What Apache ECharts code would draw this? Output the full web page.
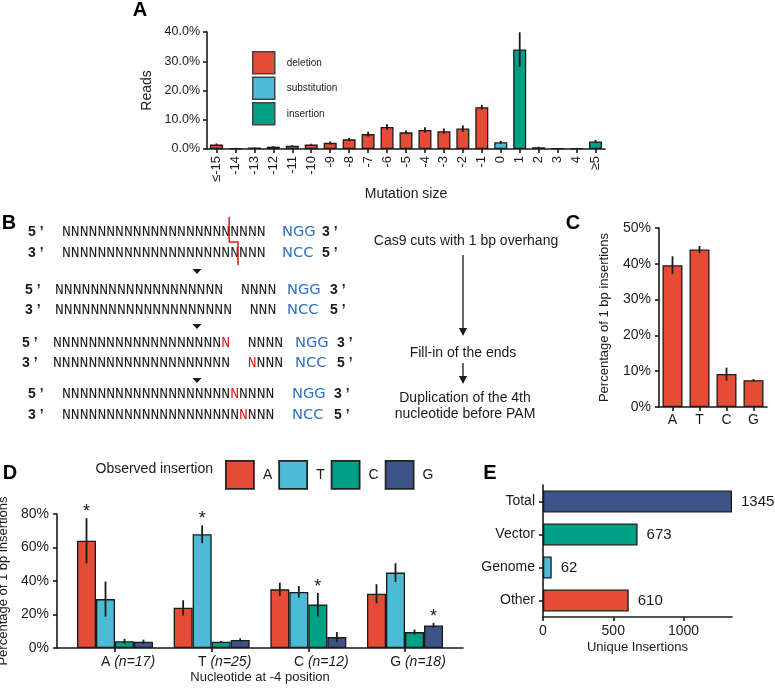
<!DOCTYPE html>
<html>
<head>
<meta charset="utf-8">
<script src="https://cdn.jsdelivr.net/npm/echarts@6/dist/echarts.min.js"></script>
<style>
  html, body { margin: 0; padding: 0; background: #fff; }
  #chart { width: 775px; height: 689px; }
</style>
</head>
<body>
<div id="chart"></div>
<script>
// ---- panel A: reads by mutation size ----
const mutSizes = ['≤-15', '-14', '-13', '-12', '-11', '-10', '-9', '-8', '-7', '-6', '-5', '-4', '-3', '-2', '-1', '0', '1', '2', '3', '4', '≥5'];
const mutTypes = ['deletion', 'deletion', 'deletion', 'deletion', 'deletion', 'deletion', 'deletion', 'deletion', 'deletion', 'deletion', 'deletion', 'deletion', 'deletion', 'deletion', 'deletion', 'substitution', 'insertion', 'insertion', 'insertion', 'insertion', 'insertion'];
const readsPct = [1.5, 0.3, 0.5, 0.8, 1.1, 1.5, 2.1, 3.3, 5.1, 7.5, 5.7, 6.5, 6.1, 7.0, 14.3, 2.3, 34.0, 0.6, 0.2, 0.2, 2.6];
const readsErr = [0.4, 0.1, 0.1, 0.2, 0.2, 0.3, 0.5, 0.5, 0.8, 1.0, 0.6, 0.9, 0.9, 1.1, 0.8, 0.5, 5.9, 0.2, 0.1, 0.1, 0.5];
const typeNames = ['deletion', 'substitution', 'insertion'];

// ---- panel C: inserted nucleotide ----
const nucleotides = ['A', 'T', 'C', 'G'];
const insertPct = [39.6, 44.0, 9.2, 7.5];
const insertErr = [2.5, 1.0, 1.8, 0.3];

// ---- panel D: observed insertion by nucleotide at -4 ----
const groupN = [17, 25, 12, 18];
const obsA = [64.0, 24.0, 35.0, 32.4];
const obsT = [29.2, 67.9, 33.5, 45.0];
const obsC = [4.0, 3.7, 25.9, 9.5];
const obsG = [3.7, 4.8, 6.5, 13.5];
const errA = [13.5, 4.5, 4.0, 5.7];
const errT = [10.5, 5.3, 3.5, 5.6];
const errC = [1.5, 0.5, 7.0, 1.5];
const errG = [1.3, 1.0, 3.0, 1.5];
const starA = [1, 0, 0, 0];
const starT = [0, 1, 0, 0];
const starC = [0, 0, 1, 0];
const starG = [0, 0, 0, 1];

// ---- panel E: unique insertions ----
const sources = ['Total', 'Vector', 'Genome', 'Other'];
const uniqueCounts = [1345, 673, 62, 610];

const RED = '#E64B35', BLUE = '#4DBBD5', GREEN = '#00A087', NAVY = '#3C5488';
const typeColors = { deletion: RED, substitution: BLUE, insertion: GREEN };
const sourceColors = [NAVY, GREEN, BLUE, RED];
const INK = '#1a1a1a';
const SANS = "'Liberation Sans', Arial, sans-serif";
const NARROW = "'Liberation Sans Narrow', 'Liberation Sans', Arial, sans-serif";
const MONO = "'Liberation Mono', 'DejaVu Sans Mono', monospace";
const SEQ_BLUE = '#2F72C4', SEQ_RED = '#D7191C';
const D_BAR_W = 19;

const chart = echarts.init(document.getElementById('chart'), null, { renderer: 'canvas' });

function lineStyle() {
  return { color: INK, width: 1.6 };
}
function baseAxis(gridIndex, fontSize, family) {
  return {
    gridIndex: gridIndex,
    axisLine: { show: true, onZero: false, lineStyle: lineStyle() },
    axisTick: { show: true, length: 4, lineStyle: lineStyle() },
    axisLabel: { color: INK, fontSize: fontSize, fontFamily: family },
    splitLine: { show: false },
    nameLocation: 'middle',
    nameTextStyle: { color: INK, fontSize: 13, fontFamily: family }
  };
}

function errorRender(offset) {
  return function (params, api) {
    const x = api.value(0);
    const lo = api.coord([x, api.value(1)]);
    const hi = api.coord([x, api.value(2)]);
    const children = [{
      type: 'line',
      shape: { x1: lo[0] + offset, y1: lo[1], x2: hi[0] + offset, y2: hi[1] },
      style: { stroke: INK, lineWidth: 1.8 }
    }];
    if (api.value(3)) {
      children.push({
        type: 'text',
        x: hi[0] + offset,
        y: hi[1] - 6,
        style: {
          text: '*', fill: INK, font: '18px ' + SANS,
          align: 'center', verticalAlign: 'middle',
          textAlign: 'center', textVerticalAlign: 'middle'
        }
      });
    }
    return { type: 'group', children: children };
  };
}

// panel A series: one per mutation type, overlapping at each category
const seriesA = typeNames.map(function (t) {
  return {
    name: t,
    type: 'bar',
    xAxisIndex: 0, yAxisIndex: 0,
    barWidth: 13,
    barGap: '-100%',
    itemStyle: { color: typeColors[t], borderColor: INK, borderWidth: 1.3 },
    data: readsPct.map(function (v, i) { return mutTypes[i] === t ? v : '-'; })
  };
});
const errorsA = {
  type: 'custom', name: 'errA', xAxisIndex: 0, yAxisIndex: 0, z: 5,
  renderItem: errorRender(0),
  encode: { x: 0, y: [1, 2] },
  data: readsPct.map(function (v, i) { return [i, v - readsErr[i], v + readsErr[i], 0]; })
};

// panel D series
const obsSets = [
  ['A', obsA, errA, starA, RED],
  ['T', obsT, errT, starT, BLUE],
  ['C', obsC, errC, starC, GREEN],
  ['G', obsG, errG, starG, NAVY]
];
const seriesD = [];
obsSets.forEach(function (s, k) {
  seriesD.push({
    name: s[0], type: 'bar', xAxisIndex: 2, yAxisIndex: 2,
    barWidth: D_BAR_W, barGap: '0%',
    itemStyle: { color: s[4], borderColor: INK, borderWidth: 1.3 },
    data: s[1].map(function (v, i) { return [i, v]; })
  });
  seriesD.push({
    type: 'custom', name: 'err' + s[0], xAxisIndex: 2, yAxisIndex: 2, z: 5,
    renderItem: errorRender((k - 1.5) * D_BAR_W),
    encode: { x: 0, y: [1, 2] },
    data: s[1].map(function (v, i) { return [i, v - s[2][i], v + s[2][i], s[3][i]]; })
  });
});

// panel B diagram (text)
const graphics = [];
function txt(x, y, s, font, fill, align) {
  graphics.push({
    type: 'text', x: x, y: y,
    style: { text: s, font: font, fill: fill || INK, align: align || 'left', verticalAlign: 'middle', textAlign: align || 'left', textVerticalAlign: 'middle' }
  });
}
const CW = 8.85;
const SEQ_FONT = (CW / 0.6).toFixed(2) + 'px ' + MONO;
function seqRow(x0, y, parts) {
  let col = 0;
  parts.forEach(function (p) {
    const s = p[0];
    if (s.trim()) txt(x0 + col * CW, y, s, SEQ_FONT, p[1]);
    col += s.length;
  });
}
const N = function (n) { return 'N'.repeat(n); };
const PRIME = 'bold 14px ' + SANS;
const PAM_FONT = '14.7px ' + "'DejaVu Sans', sans-serif";
function strand(px, x0, pamX, endX, y, left, parts, pam, right) {
  txt(px, y, left, PRIME);
  seqRow(x0, y, parts);
  txt(pamX, y, pam, PAM_FONT, SEQ_BLUE);
  txt(endX, y, right, PRIME);
}
strand(28, 62, 282, 322, 232, '5 ’', [[N(19) + N(4), INK]], 'NGG', '3 ’');
strand(28, 62, 282, 322, 253, '3 ’', [[N(20) + N(3), INK]], 'NCC', '5 ’');
strand(25, 55, 287, 330, 290, '5 ’', [[N(19) + '  ' + N(4), INK]], 'NGG', '3 ’');
strand(25, 55, 287, 330, 310, '3 ’', [[N(20) + '  ' + N(3), INK]], 'NCC', '5 ’');
strand(22, 53, 295, 337, 343, '5 ’', [[N(19), INK], ['N', SEQ_RED], ['  ' + N(4), INK]], 'NGG', '3 ’');
strand(22, 53, 295, 337, 363, '3 ’', [[N(20) + '  ', INK], ['N', SEQ_RED], [N(3), INK]], 'NCC', '5 ’');
strand(28, 62, 292, 334, 394, '5 ’', [[N(19), INK], ['N', SEQ_RED], [N(4), INK]], 'NGG', '3 ’');
strand(28, 62, 292, 334, 415, '3 ’', [[N(20), INK], ['N', SEQ_RED], [N(3), INK]], 'NCC', '5 ’');

// staggered cut
const cutTop = 62 + 19 * CW - 1, cutBot = 62 + 20 * CW - 1;
graphics.push({
  type: 'polyline',
  shape: { points: [[cutTop, 217], [cutTop, 242], [cutBot, 242], [cutBot, 265]] },
  style: { stroke: SEQ_RED, lineWidth: 1.5, fill: null }
});
[269, 324, 378].forEach(function (y) {
  graphics.push({ type: 'polygon', shape: { points: [[192.5, y], [201.5, y], [197, y + 5]] }, style: { fill: INK } });
});

// right-hand description with arrows
const DESC = '14px ' + SANS;
txt(466, 241, 'Cas9 cuts with 1 bp overhang', DESC, INK, 'center');
txt(463, 353, 'Fill-in of the ends', DESC, INK, 'center');
txt(465, 398, 'Duplication of the 4th', DESC, INK, 'center');
txt(465, 414, 'nucleotide before PAM', DESC, INK, 'center');
graphics.push({ type: 'line', shape: { x1: 463, y1: 255, x2: 463, y2: 330 }, style: { stroke: INK, lineWidth: 1.3 } });
graphics.push({ type: 'polygon', shape: { points: [[459, 328], [467, 328], [463, 336]] }, style: { fill: INK } });
graphics.push({ type: 'line', shape: { x1: 463, y1: 363, x2: 463, y2: 378 }, style: { stroke: INK, lineWidth: 1.3 } });
graphics.push({ type: 'polygon', shape: { points: [[459, 376], [467, 376], [463, 384]] }, style: { fill: INK } });

// panel letters and legend caption
const LETTER = 'bold 20px ' + SANS;
txt(140, 10, 'A', LETTER, '#000', 'center');
txt(9, 223, 'B', LETTER, '#000', 'center');
txt(573, 223, 'C', LETTER, '#000', 'center');
txt(10, 473, 'D', LETTER, '#000', 'center');
txt(490, 473, 'E', LETTER, '#000', 'center');
txt(213, 469, 'Observed insertion', '14px ' + SANS, INK, 'right');

const option = {
  animation: false,
  backgroundColor: '#fff',
  textStyle: { fontFamily: SANS },
  grid: [
    { left: 207, top: 32, width: 398, height: 117, outerBoundsMode: 'none' },
    { left: 659, top: 228, width: 108, height: 179, outerBoundsMode: 'none' },
    { left: 57, top: 514, width: 406, height: 134, outerBoundsMode: 'none' },
    { left: 543, top: 485, width: 189, height: 132, outerBoundsMode: 'none' }
  ],
  legend: [
    {
      data: typeNames, orient: 'vertical', left: 247, top: 46,
      itemWidth: 22, itemHeight: 22, itemGap: 2, icon: 'rect', selectedMode: false,
      itemStyle: { borderColor: '#444', borderWidth: 1.5 },
      textStyle: { fontSize: 10, color: INK, fontFamily: SANS, padding: [0, 0, 0, 7] }
    },
    {
      data: nucleotides, orient: 'horizontal', left: 220, top: 455,
      itemWidth: 28, itemHeight: 28, itemGap: 6, icon: 'rect', selectedMode: false,
      itemStyle: { borderColor: '#222', borderWidth: 1.8 },
      textStyle: { fontSize: 14, color: INK, fontFamily: SANS, padding: [0, 0, 0, 4] }
    }
  ],
  xAxis: [
    Object.assign(baseAxis(0, 13, NARROW), {
      type: 'category', data: mutSizes,
      name: 'Mutation size', nameGap: 38,
      nameTextStyle: { color: INK, fontSize: 14, fontFamily: NARROW },
      axisTick: { show: true, length: 4, alignWithLabel: true, lineStyle: lineStyle() },
      axisLabel: { color: INK, fontSize: 13, fontFamily: NARROW, rotate: 90, margin: 7, interval: 0 }
    }),
    Object.assign(baseAxis(1, 14, SANS), {
      type: 'category', data: nucleotides,
      axisTick: { show: true, length: 4, alignWithLabel: true, lineStyle: lineStyle() },
      axisLabel: { color: INK, fontSize: 14, fontFamily: SANS, margin: 6 }
    }),
    Object.assign(baseAxis(2, 14, SANS), {
      type: 'value', min: -0.6, max: 3.6,
      name: 'Nucleotide at -4 position', nameGap: 23,
      axisTick: { show: true, length: 4, customValues: [0, 1, 2, 3], lineStyle: lineStyle() },
      axisLabel: {
        color: INK, fontSize: 14, fontFamily: SANS, margin: 7,
        customValues: [0, 1, 2, 3],
        formatter: function (v) {
          const i = Math.round(v);
          return '{g|' + nucleotides[i] + '} {n|(n=' + groupN[i] + ')}';
        },
        rich: {
          g: { fontSize: 14, fontFamily: SANS, color: INK, padding: [0, 0, 0, 26] },
          n: { fontSize: 14, fontFamily: SANS, color: INK, fontStyle: 'italic' }
        }
      }
    }),
    Object.assign(baseAxis(3, 14, SANS), {
      type: 'value', min: 0, max: 1345,
      name: 'Unique Insertions', nameGap: 24,
      axisTick: { show: true, length: 4, customValues: [0, 500, 1000], lineStyle: lineStyle() },
      axisLabel: {
        color: INK, fontSize: 14, fontFamily: SANS, margin: 7, customValues: [0, 500, 1000],
        formatter: function (v) { return String(v); }
      }
    })
  ],
  yAxis: [
    Object.assign(baseAxis(0, 12.5, NARROW), {
      type: 'value', min: 0, max: 40, interval: 10,
      name: 'Reads', nameGap: 50,
      nameTextStyle: { color: INK, fontSize: 14, fontFamily: NARROW },
      axisLabel: { color: INK, fontSize: 12.5, fontFamily: NARROW, margin: 7, formatter: function (v) { return v.toFixed(1) + '%'; } }
    }),
    Object.assign(baseAxis(1, 14, SANS), {
      type: 'value', min: 0, max: 50, interval: 10,
      name: 'Percentage of 1 bp insertions', nameGap: 48,
      axisLabel: { color: INK, fontSize: 14, fontFamily: SANS, margin: 8, formatter: '{value}%' }
    }),
    Object.assign(baseAxis(2, 14, SANS), {
      type: 'value', min: 0, max: 80, interval: 20,
      name: 'Percentage of 1 bp insertions', nameGap: 41,
      axisLabel: { color: INK, fontSize: 14, fontFamily: SANS, margin: 8, formatter: '{value}%' }
    }),
    Object.assign(baseAxis(3, 14, SANS), {
      type: 'category', data: sources, inverse: true,
      axisTick: { show: true, length: 4, alignWithLabel: true, lineStyle: lineStyle() },
      axisLabel: { color: INK, fontSize: 14, fontFamily: SANS, margin: 8 }
    })
  ],
  series: seriesA.concat([errorsA]).concat([
    {
      name: '1 bp insertions', type: 'bar', xAxisIndex: 1, yAxisIndex: 1,
      barWidth: 20,
      itemStyle: { color: RED, borderColor: INK, borderWidth: 1.3 },
      data: insertPct
    },
    {
      type: 'custom', name: 'errC', xAxisIndex: 1, yAxisIndex: 1, z: 5,
      renderItem: errorRender(0),
      encode: { x: 0, y: [1, 2] },
      data: insertPct.map(function (v, i) { return [i, v - insertErr[i], v + insertErr[i], 0]; })
    }
  ]).concat(seriesD).concat([
    {
      name: 'Unique insertions', type: 'bar', xAxisIndex: 3, yAxisIndex: 3,
      barWidth: 22,
      label: { show: true, position: 'right', distance: 9, color: INK, fontSize: 15, fontFamily: SANS },
      data: uniqueCounts.map(function (v, i) {
        return { value: v, itemStyle: { color: sourceColors[i], borderColor: INK, borderWidth: 1.3 } };
      })
    }
  ]),
  graphic: graphics
};

chart.setOption(option);
</script>
</body>
</html>
